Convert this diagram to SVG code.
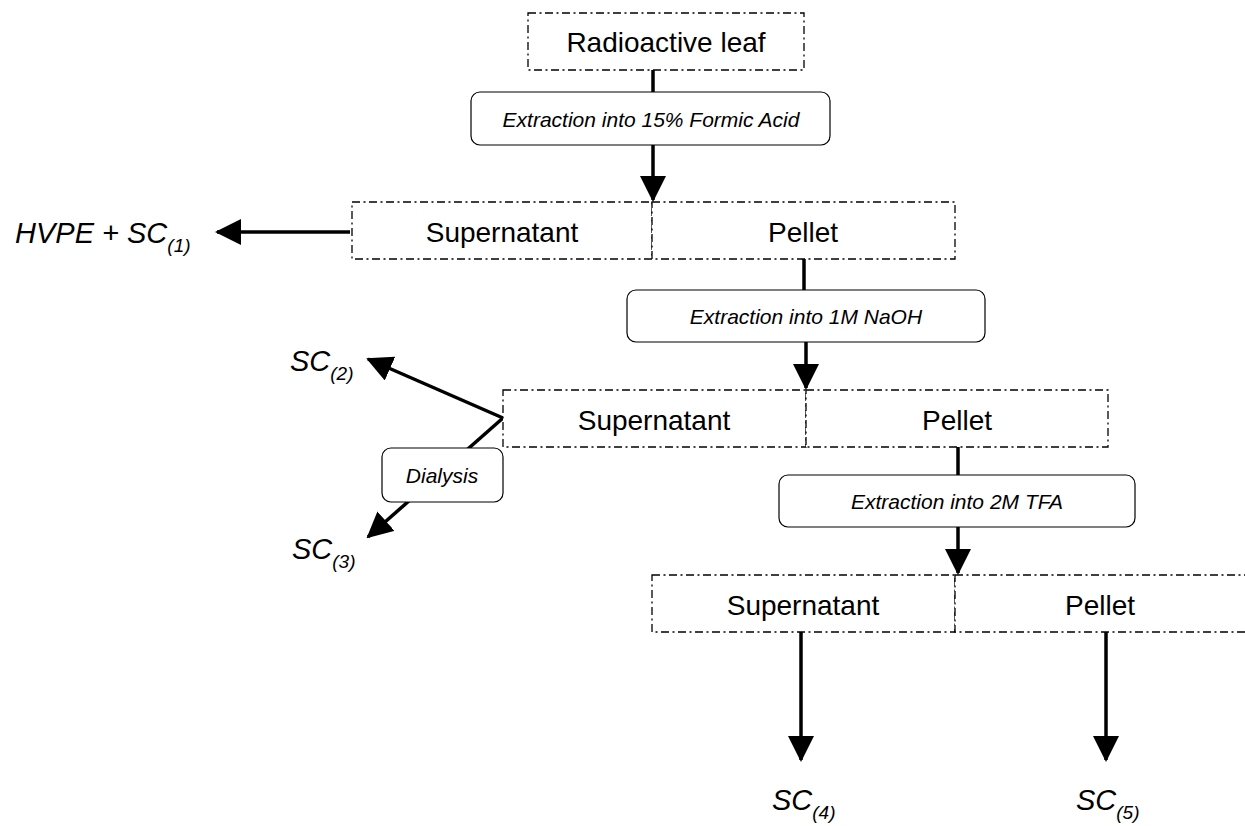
<svg xmlns="http://www.w3.org/2000/svg" width="1245" height="826" viewBox="0 0 1245 826">
<style>
.dash{fill:#fff;stroke:#000;stroke-width:1.3;stroke-dasharray:8 3.5 2 3.5}
.proc{fill:#fff;stroke:#000;stroke-width:1.2}
.main{font-family:"Liberation Sans",Arial,sans-serif;font-size:28px;fill:#000;text-anchor:middle}
.ital{font-family:"Liberation Sans",Arial,sans-serif;font-size:21px;font-style:italic;fill:#000;text-anchor:middle}
.sc{font-family:"Liberation Sans",Arial,sans-serif;font-size:29px;font-style:italic;fill:#000}
.sub{font-size:19px}
.ln{stroke:#000;stroke-width:3.5;fill:none}
.hd{fill:#000}
</style>
<defs>
<marker id="ah" viewBox="0 0 26 26" refX="24" refY="13" markerWidth="26" markerHeight="26" markerUnits="userSpaceOnUse" orient="auto">
<path d="M0,0 L26,13 L0,26 z" fill="#000"/>
</marker>
</defs>
<rect width="1245" height="826" fill="#fff"/>
<g id="connectors">
<line class="ln" x1="653" y1="70" x2="653" y2="92"/>
<line class="ln" x1="653" y1="145" x2="653" y2="200" marker-end="url(#ah)"/>
<line class="ln" x1="350" y1="232" x2="217" y2="232" marker-end="url(#ah)"/>
<line class="ln" x1="804" y1="259" x2="804" y2="290"/>
<line class="ln" x1="806" y1="342" x2="806" y2="388" marker-end="url(#ah)"/>
<line class="ln" x1="503" y1="418" x2="368" y2="359" marker-end="url(#ah)"/>
<line class="ln" x1="503" y1="418" x2="368" y2="537" marker-end="url(#ah)"/>
<line class="ln" x1="958" y1="447" x2="958" y2="475"/>
<line class="ln" x1="958" y1="527" x2="958" y2="573" marker-end="url(#ah)"/>
<line class="ln" x1="801" y1="632" x2="801" y2="760" marker-end="url(#ah)"/>
<line class="ln" x1="1106" y1="632" x2="1106" y2="760" marker-end="url(#ah)"/>
</g>
<g id="leaf">
<rect class="dash" x="528" y="13" width="276" height="57"/>
<text class="main" x="666" y="52">Radioactive leaf</text>
</g>
<g id="formic">
<rect class="proc" x="471" y="92" width="359" height="53" rx="9"/>
<text class="ital" x="651" y="127">Extraction into 15% Formic Acid</text>
</g>
<g id="sup1">
<rect class="dash" x="352" y="202" width="300" height="57"/>
<text class="main" x="502" y="242">Supernatant</text>
</g>
<g id="pel1">
<rect class="dash" x="652" y="202" width="303" height="57"/>
<text class="main" x="803" y="242">Pellet</text>
</g>
<g id="hvpe">
<text class="sc" x="15" y="243">HVPE + SC<tspan class="sub" dy="9">(1)</tspan></text>
</g>
<g id="naoh">
<rect class="proc" x="627" y="290" width="358" height="52" rx="9"/>
<text class="ital" x="806" y="324">Extraction into 1M NaOH</text>
</g>
<g id="sup2">
<rect class="dash" x="503" y="390" width="303" height="57"/>
<text class="main" x="654" y="430">Supernatant</text>
</g>
<g id="pel2">
<rect class="dash" x="806" y="390" width="302" height="57"/>
<text class="main" x="957" y="430">Pellet</text>
</g>
<g id="sc2">
<text class="sc" x="290" y="371">SC<tspan class="sub" dy="9">(2)</tspan></text>
</g>
<g id="dialysis">
<rect class="proc" x="382" y="448" width="121" height="54" rx="9"/>
<text class="ital" x="442" y="483">Dialysis</text>
</g>
<g id="sc3">
<text class="sc" x="292" y="559">SC<tspan class="sub" dy="9">(3)</tspan></text>
</g>
<g id="tfa">
<rect class="proc" x="779" y="475" width="356" height="52" rx="9"/>
<text class="ital" x="957" y="509">Extraction into 2M TFA</text>
</g>
<g id="sup3">
<rect class="dash" x="652" y="575" width="303" height="57"/>
<text class="main" x="803" y="615">Supernatant</text>
</g>
<g id="pel3">
<rect class="dash" x="955" y="575" width="295" height="57"/>
<text class="main" x="1100" y="615">Pellet</text>
</g>
<g id="sc4">
<text class="sc" x="772" y="810">SC<tspan class="sub" dy="9">(4)</tspan></text>
</g>
<g id="sc5">
<text class="sc" x="1076" y="810">SC<tspan class="sub" dy="9">(5)</tspan></text>
</g>
</svg>
